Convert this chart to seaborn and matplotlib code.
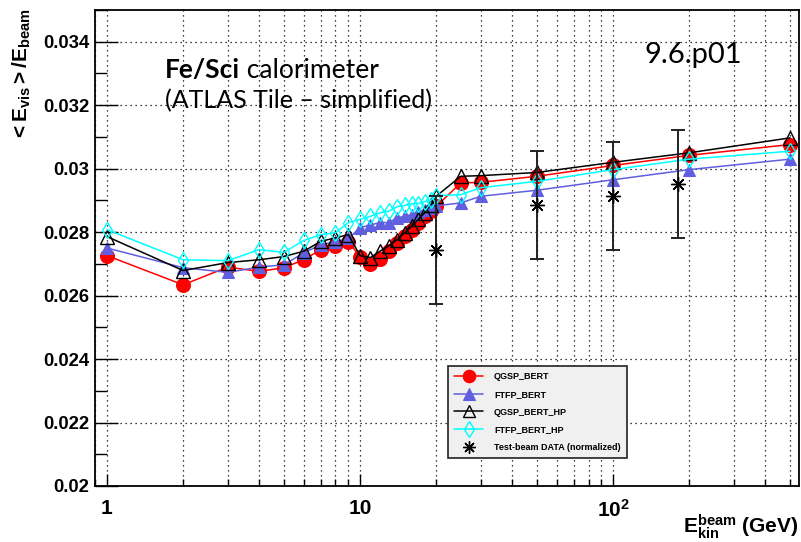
import numpy as np
import pandas as pd
import matplotlib
matplotlib.use("Agg")
import matplotlib.pyplot as plt
import seaborn as sns
from matplotlib.lines import Line2D
from matplotlib.ticker import FixedLocator, FixedFormatter, NullFormatter, LogLocator

# ---------------- data ----------------
energy = [1, 2, 3, 4, 5, 6, 7, 8, 9, 10, 11, 12, 13, 14, 15, 16, 17, 18, 19, 20, 25, 30, 50, 100, 200, 500]
qgsp_bert = [0.02726, 0.02634, 0.0269, 0.02676, 0.02688, 0.02713, 0.02745, 0.02755, 0.0277,
             0.02722, 0.02700, 0.02716, 0.0274, 0.02766, 0.02787, 0.02808, 0.0283, 0.0285, 0.02866, 0.02881,
             0.02955, 0.02957, 0.02976, 0.0301, 0.03042, 0.03076]
ftfp_bert = [0.0275, 0.02688, 0.02673, 0.0269, 0.02697, 0.02735, 0.0276, 0.0277, 0.0278,
             0.02814, 0.02823, 0.0283, 0.0283, 0.02845, 0.0285, 0.02855, 0.02862, 0.0287, 0.02877, 0.02883,
             0.02892, 0.02913, 0.02932, 0.02965, 0.02997, 0.0303]
qgsp_bert_hp = [0.02786, 0.02679, 0.02704, 0.02713, 0.02723, 0.0274, 0.02771, 0.02782, 0.02792,
                0.02726, 0.0272, 0.0274, 0.02757, 0.02776, 0.02798, 0.02818, 0.0284, 0.02861, 0.02886, 0.02913,
                0.02976, 0.02978, 0.02988, 0.0302, 0.0305, 0.03097]
ftfp_bert_hp = [0.02808, 0.02713, 0.0271, 0.02745, 0.02736, 0.02774, 0.02792, 0.02798, 0.0283,
                0.0284, 0.0285, 0.02861, 0.02866, 0.0288, 0.02884, 0.0289, 0.0289, 0.02896, 0.0290, 0.02915,
                0.02918, 0.0294, 0.0296, 0.02997, 0.0303, 0.03055]
data_energy = [20, 50, 100, 180]
data_value = [0.02745, 0.02885, 0.02915, 0.02953]
data_error = [0.0017, 0.0017, 0.0017, 0.0017]

series_names = ["QGSP_BERT", "FTFP_BERT", "QGSP_BERT_HP", "FTFP_BERT_HP"]
data_name = "Test-beam DATA (normalized)"
y_ticks = [0.02, 0.022, 0.024, 0.026, 0.028, 0.03, 0.032, 0.034]
y_tick_labels = ["0.02", "0.022", "0.024", "0.026", "0.028", "0.03", "0.032", "0.034"]
x_ticks = [1, 10, 100]
x_tick_labels = ["1", "10", r"$\mathbf{10^{2}}$"]

# ---------------- style ----------------
sns.set_style("white")
plt.rcParams["font.family"] = ["Liberation Sans", "DejaVu Sans"]
plt.rcParams["mathtext.fontset"] = "custom"
plt.rcParams["mathtext.rm"] = "Liberation Sans"
plt.rcParams["mathtext.bf"] = "Liberation Sans:bold"
plt.rcParams["mathtext.it"] = "Liberation Sans:italic"
plt.rcParams["text.color"] = "black"
plt.rcParams["xtick.color"] = "black"
plt.rcParams["ytick.color"] = "black"
plt.rcParams["axes.labelcolor"] = "black"

W, H = 801, 542
fig = plt.figure(figsize=(W / 100, H / 100), dpi=100)
ax = fig.add_axes([95 / W, 1 - 486 / H, (799 - 95) / W, (486 - 10) / H])
ax.set_facecolor("white")

styles = [
    dict(color="#ff0000", marker="o", markersize=10, markerfacecolor="#ff0000", markeredgecolor="#ff0000", markeredgewidth=0.8),
    dict(color="#5f5fe0", marker="^", markersize=9, markerfacecolor="#5f5fe0", markeredgecolor="#5f5fe0", markeredgewidth=0.8),
    dict(color="black", marker="^", markersize=10, markerfacecolor="none", markeredgecolor="black", markeredgewidth=1.0),
    dict(color="#00ffff", marker="d", markersize=8.5, markerfacecolor="none", markeredgecolor="#00ffff", markeredgewidth=1.0),
]
values = [qgsp_bert, ftfp_bert, qgsp_bert_hp, ftfp_bert_hp]

for i, (name, vals, st) in enumerate(zip(series_names, values, styles)):
    df = pd.DataFrame({"E": energy, "v": vals})
    sns.lineplot(data=df, x="E", y="v", ax=ax, color=st["color"], marker=st["marker"],
                 markersize=st["markersize"], markerfacecolor=st["markerfacecolor"],
                 markeredgecolor=st["markeredgecolor"], markeredgewidth=st["markeredgewidth"],
                 linewidth=1.1, zorder=3 + i, legend=False, errorbar=None)

ast_marker = (8, 2, 0)
ax.errorbar(data_energy, data_value, yerr=data_error, fmt="none", ecolor="#222222",
            elinewidth=1.4, capsize=5, capthick=1.4, zorder=8)
sns.scatterplot(x=data_energy, y=data_value, ax=ax, marker=ast_marker, s=100, color="black",
                linewidth=1.0, zorder=9, legend=False)

ax.set_xscale("log")
ax.set_xlim(0.897, 543)
ax.set_ylim(0.02, 0.035)

ax.xaxis.set_major_locator(FixedLocator(x_ticks))
ax.xaxis.set_major_formatter(FixedFormatter(x_tick_labels))
ax.xaxis.set_minor_locator(LogLocator(base=10, subs=np.arange(2, 10)))
ax.xaxis.set_minor_formatter(NullFormatter())
ax.yaxis.set_major_locator(FixedLocator(y_ticks))
ax.yaxis.set_major_formatter(FixedFormatter(y_tick_labels))
ax.yaxis.set_minor_locator(FixedLocator(np.arange(0.021, 0.0351, 0.002)))

ax.grid(True, which="both", axis="x", linestyle=(0, (1, 3)), color="black", linewidth=0.9)
ax.grid(True, which="major", axis="y", linestyle=(0, (1, 3)), color="black", linewidth=0.9)

ax.tick_params(axis="y", which="major", direction="in", length=16.5, width=1.0, left=True, right=False,
               labelsize=13.3, pad=4)
ax.tick_params(axis="y", which="minor", direction="in", length=8.5, width=1.0, left=True, right=False)
ax.tick_params(axis="x", which="major", direction="in", length=9, width=1.0, bottom=True, top=False,
               labelsize=15, pad=9)
ax.tick_params(axis="x", which="minor", direction="in", length=5, width=1.0, bottom=True, top=False)
for lab in ax.get_yticklabels() + ax.get_xticklabels():
    lab.set_fontweight("bold")

for sp in ax.spines.values():
    sp.set_color("black")
    sp.set_linewidth(1.3)

ax.set_xlabel("")
ax.set_ylabel("")
fig.text(22 / W, 1 - 75 / H, r"$\mathbf{<E_{vis}>/E_{beam}}$", rotation=90, fontsize=15,
         ha="center", va="center")
fig.text(798 / W, 1 - 527 / H, r"$\mathbf{E_{kin}^{beam}}$ (GeV)", fontsize=15, fontweight="bold",
         ha="right", va="center")

# legend
handles = []
for name, st in zip(series_names, styles):
    handles.append(Line2D([0], [0], color=st["color"], marker=st["marker"], markersize=st["markersize"] * 0.9,
                          markerfacecolor=st["markerfacecolor"], markeredgecolor=st["markeredgecolor"],
                          markeredgewidth=st["markeredgewidth"], linewidth=1.1, label=name))
handles.append(Line2D([0], [0], color="black", marker=ast_marker, markersize=9, linestyle="none",
                      markeredgewidth=1.0, label=data_name))
leg = ax.legend(handles=handles, loc="lower left", bbox_to_anchor=((448 - 95) / 704, (486 - 458) / 476),
                frameon=True, fancybox=False, framealpha=1, facecolor="#f0f0f0", edgecolor="#222222",
                prop={"size": 6.5, "weight": "bold"}, handlelength=3.2, handletextpad=1.2,
                labelspacing=0.95, borderpad=0.7, borderaxespad=0)
leg.get_frame().set_linewidth(1.2)
leg.set_zorder(20)

# annotations
t1 = fig.text(165 / W, 1 - 70 / H, "Fe/Sci", fontsize=19, fontweight="bold", family="Lato",
              ha="left", va="center", color="black")
fig.canvas.draw()
bb = t1.get_window_extent()
fig.text(bb.x1 / W, 1 - 70 / H, " calorimeter", fontsize=19, family="Lato", ha="left", va="center",
         color="black")
fig.text(165 / W, 1 - 100 / H, "(ATLAS Tile \u2013 simplified)", fontsize=18, family="Lato",
         ha="left", va="center", color="black")
fig.text(645 / W, 1 - 55 / H, "9.6.p01", fontsize=21, family="Lato", ha="left", va="center",
         color="black")

fig.savefig("out.png", dpi=100)
